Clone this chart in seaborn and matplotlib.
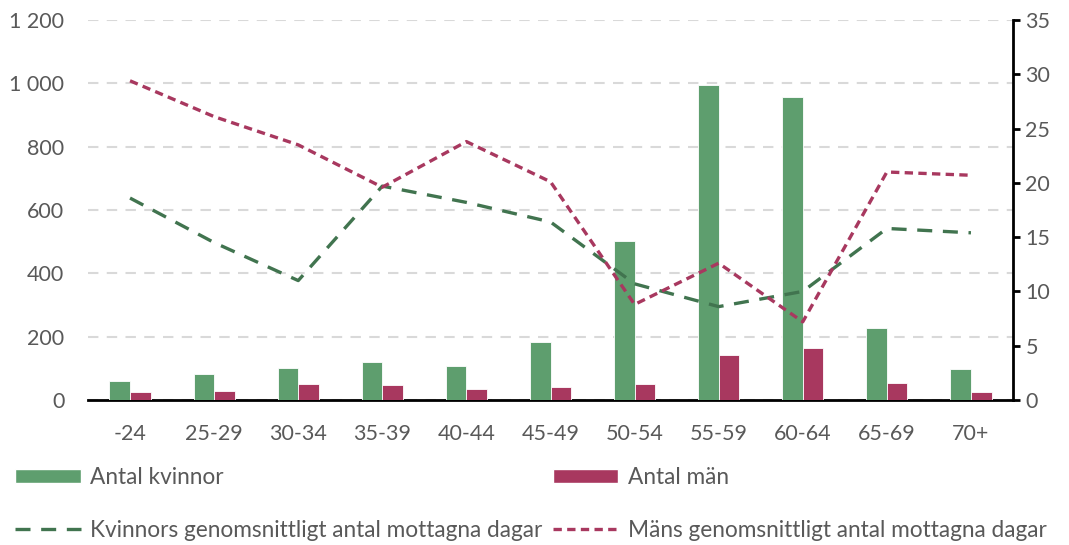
import numpy as np
import pandas as pd
import matplotlib.pyplot as plt
import matplotlib.ticker as mticker
from matplotlib.patches import Patch
from matplotlib.lines import Line2D
import seaborn as sns

ALDER = ['-24', '25-29', '30-34', '35-39', '40-44', '45-49',
         '50-54', '55-59', '60-64', '65-69', '70+']
ANTAL_KVINNOR = [60, 82, 101, 119, 107, 182, 502, 995, 956, 228, 97]
ANTAL_MAN = [24, 29, 51, 47, 34, 41, 52, 142, 164, 54, 25]
DAGAR_KVINNOR = [18.6, 14.5, 11.0, 19.7, 18.2, 16.4, 10.7, 8.6, 10.0, 15.8, 15.4]
DAGAR_MAN = [29.4, 26.1, 23.5, 19.6, 23.8, 20.1, 8.8, 12.6, 7.2, 21.0, 20.7]

GRON = '#5E9E6E'
GRON_LINJE = '#41744F'
ROSA = '#A8385F'
GRA_TEXT = '#595959'
FS = 15.5
FS_LEG = 16.3

sns.set_theme(style='white')
plt.rcParams['font.family'] = ['Lato', 'DejaVu Sans']

fig = plt.figure(figsize=(10.69, 5.45), dpi=100)
ax = fig.add_axes([88 / 1069, 1 - 400 / 545, (1013 - 88) / 1069, 380 / 545])

df = pd.DataFrame({
    'Ålder': ALDER * 2,
    'Antal': ANTAL_KVINNOR + ANTAL_MAN,
    'Kön': ['Antal kvinnor'] * len(ALDER) + ['Antal män'] * len(ALDER),
})
sns.barplot(data=df, x='Ålder', y='Antal', hue='Kön', order=ALDER,
            palette=[GRON, ROSA], width=0.49, gap=0, saturation=1,
            edgecolor='white', linewidth=0.6, legend=False, ax=ax, zorder=3)

ax.set_ylim(0, 1200)
ax.set_xlim(-0.5, len(ALDER) - 0.5)
ax.yaxis.set_major_locator(mticker.MultipleLocator(200))
ax.yaxis.set_major_formatter(mticker.FuncFormatter(lambda v, p: f'{int(v):,}'.replace(',', ' ')))
ax.grid(axis='y', color='#D9D9D9', linestyle=(0, (5, 4)), linewidth=1.5, zorder=0)
ax.set_axisbelow(True)
ax.set_xlabel('')
ax.set_ylabel('')
for s in ['top', 'left', 'right']:
    ax.spines[s].set_visible(False)
ax.spines['bottom'].set_color('black')
ax.spines['bottom'].set_linewidth(2)
ax.tick_params(axis='x', length=0, pad=17, labelsize=FS, labelcolor=GRA_TEXT)
ax.tick_params(axis='y', length=0, pad=17, labelsize=FS, labelcolor=GRA_TEXT)

ax2 = ax.twinx()
x = np.arange(len(ALDER))
sns.lineplot(x=x, y=DAGAR_KVINNOR, ax=ax2, color=GRON_LINJE, linewidth=2.4,
             zorder=4).lines[-1].set_dashes((4.5, 3.2))
sns.lineplot(x=x, y=DAGAR_MAN, ax=ax2, color=ROSA, linewidth=2.4,
             zorder=4).lines[-1].set_dashes((2.5, 1.6))
ax2.set_ylim(0, 35)
ax2.set_xlim(-0.5, len(ALDER) - 0.5)
ax2.yaxis.set_major_locator(mticker.MultipleLocator(5))
for s in ['top', 'left', 'bottom']:
    ax2.spines[s].set_visible(False)
ax2.spines['right'].set_color('black')
ax2.spines['right'].set_linewidth(2)
ax2.tick_params(axis='y', direction='out', length=5, width=2, color='black',
                pad=4, labelsize=FS, labelcolor=GRA_TEXT, right=True)
ax2.grid(False)

handles = [
    Patch(facecolor=GRON, label='Antal kvinnor'),
    Line2D([], [], color=GRON_LINJE, linewidth=2.4, dashes=(4.5, 3.2),
           label='Kvinnors genomsnittligt antal mottagna dagar'),
    Patch(facecolor=ROSA, label='Antal män'),
    Line2D([], [], color=ROSA, linewidth=2.4, dashes=(2.5, 1.6),
           label='Mäns genomsnittligt antal mottagna dagar'),
]
leg = fig.legend(handles=handles, ncol=2, loc='upper left',
                 bbox_to_anchor=(6 / 1069, 1 - 458 / 545), frameon=False,
                 fontsize=FS_LEG, handlelength=2.9, handleheight=0.58,
                 handletextpad=0.42, columnspacing=0.45, labelspacing=1.4,
                 borderaxespad=0)
for t in leg.get_texts():
    t.set_color(GRA_TEXT)

fig.savefig('out.png', dpi=100)
